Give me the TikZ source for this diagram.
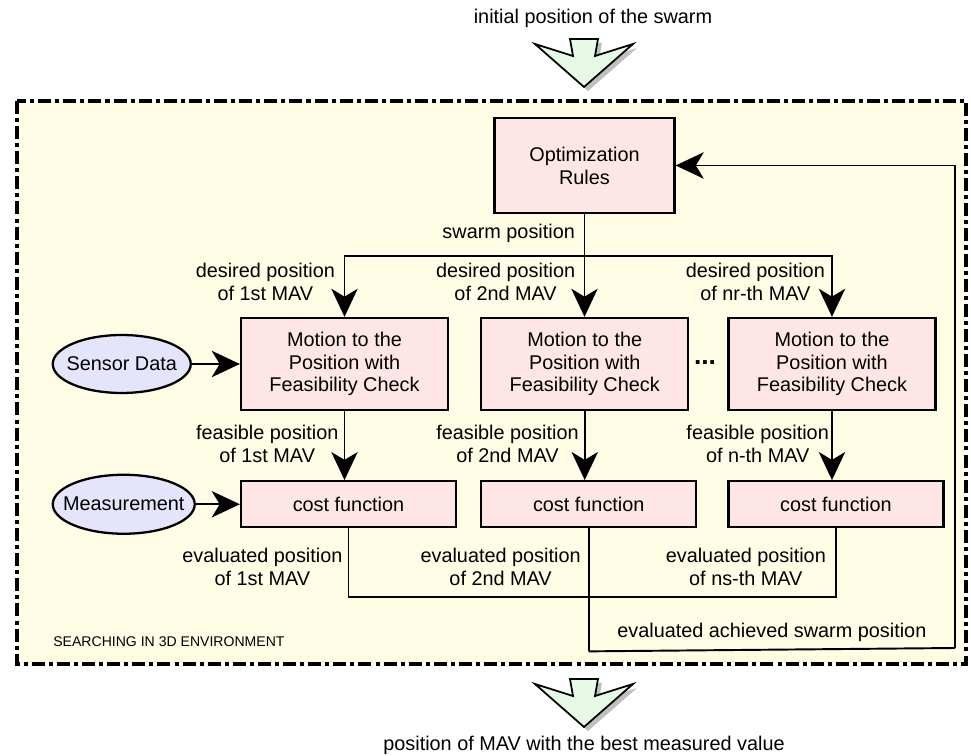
\documentclass[tikz,border=0pt]{standalone}
\usepackage{fontspec}
\setmainfont{Liberation Sans}
\usepackage{xcolor}
\usetikzlibrary{positioning,arrows.meta,shapes.geometric}
\definecolor{boxpink}{HTML}{FFE6E6}
\definecolor{areayellow}{HTML}{FFFDE6}
\definecolor{inlavender}{HTML}{E4E4FA}
\definecolor{arrowgreen}{HTML}{E6FAE6}

\tikzset{
  procbox/.style={draw, line width=1.3pt, fill=boxpink, align=center, inner sep=2pt},
  motionbox/.style={procbox, minimum width=4.14cm, minimum height=1.84cm},
  costbox/.style={procbox, minimum width=4.3cm, minimum height=0.92cm},
  inputell/.style={ellipse, draw, line width=1.3pt, fill=inlavender, inner sep=0pt},
  lbl/.style={align=center, inner sep=1pt},
  conn/.style={line width=1.1pt},
  arr/.style={conn, -{Stealth[length=16pt, width=15pt, inset=4.5pt]}},
  searcharea/.style={draw, line width=2.3pt, fill=areayellow,
                     dash pattern=on 7.4pt off 2.3pt on 2.3pt off 2.3pt},
  flowarrow/.pic={
    \fill[black!25] (-45,5) -- (-7,17) -- (-10,0) -- (18,0) -- (15,17) -- (53,5) -- (4,48) -- cycle;
    \draw[fill=arrowgreen, line width=1pt, line join=miter]
      (-49,1) -- (-11,13) -- (-14,-4) -- (14,-4) -- (11,13) -- (49,1) -- (0,44) -- cycle;
  }
}

\begin{document}
\begin{tikzpicture}[x=0.02cm, y=-0.02cm, font=\fontsize{11.3}{13}\selectfont]
  \useasboundingbox (0,0) rectangle (971,756);

  \draw[searcharea] (17,101) rectangle (966,664);
  \node[anchor=west, inner sep=0pt, font=\fontsize{8}{9}\selectfont] (envlbl) at (53,642)
    {SEARCHING IN 3D ENVIRONMENT};

  \node (start) at (593,18) {initial position of the swarm};
  \pic (inarrow) at (584,43) {flowarrow};
  \pic (outarrow) at (584,683) {flowarrow};
  \node (result) at (584,745) {position of MAV with the best measured value};

  \node[procbox, minimum width=3.6cm, minimum height=1.9cm] (opt) at (584.5,165.5)
    {Optimization\\Rules};

  \node[motionbox] (m1) at (344.5,364) {Motion to the\\Position with\\Feasibility Check};
  \node[motionbox, right=0.62cm of m1] (m2) {Motion to the\\Position with\\Feasibility Check};
  \node[motionbox, right=0.76cm of m2] (m3) {Motion to the\\Position with\\Feasibility Check};
  \node[font=\fontsize{15}{15}\bfseries\selectfont] (dots) at (705,363) {...};

  \node[costbox, below right=1.38cm and 0cm of m1.south west] (c1) {cost function};
  \node[costbox, below right=1.38cm and 0cm of m2.south west] (c2) {cost function};
  \node[costbox, below right=1.38cm and 0cm of m3.south west] (c3) {cost function};

  \node[inputell, minimum width=2.76cm, minimum height=1.16cm, left=0.96cm of m1] (sensor)
    {\makebox[0pt]{Sensor Data}};
  \node[inputell, minimum width=2.84cm, minimum height=1.18cm, left=0.88cm of c1] (meas)
    {\makebox[0pt]{Measurement}};
  \draw[arr] (sensor) -- (m1);
  \draw[arr] (meas) -- (c1);

  \node[lbl, below left=0.15cm and 0.15cm of opt.south] (swpos) {swarm position};
  \coordinate[below=0.84cm of opt.south] (split);
  \draw[arr] (opt.south) -- (opt.south |- m2.north);
  \draw[arr] (split) -| (m1.north);
  \draw[arr] (split) -| (m3.north);

  \node[lbl, above left=0.28cm and 0.15cm of m1.north] (d1) {desired position\\of 1st MAV};
  \node[lbl, above left=0.28cm and 0.15cm of m2.north] (d2) {desired position\\of 2nd MAV};
  \node[lbl, above left=0.28cm and 0.1cm of m3.north] (d3) {desired position\\of nr-th MAV};

  \draw[arr] (m1.south) -- (m1.south |- c1.north);
  \draw[arr] (m2.south) -- (m2.south |- c2.north);
  \draw[arr] (m3.south) -- (m3.south |- c3.north);
  \node[lbl, below left=0.24cm and 0.08cm of m1.south] (f1) {feasible position\\of 1st MAV};
  \node[lbl, below left=0.24cm and 0.08cm of m2.south] (f2) {feasible position\\of 2nd MAV};
  \node[lbl, below left=0.24cm and 0.02cm of m3.south] (f3) {feasible position\\of n-th MAV};

  \node[lbl, below left=0.36cm and 0.08cm of c1.south] (e1) {evaluated position\\of 1st MAV};
  \node[lbl, below left=0.36cm and 0.12cm of c2.south] (e2) {evaluated position\\of 2nd MAV};
  \node[lbl, below left=0.36cm and 0.16cm of c3.south] (e3) {evaluated position\\of ns-th MAV};

  \coordinate[below=1.38cm of c2.south] (merge);
  \coordinate[below=2.46cm of c2.south] (ret);
  \coordinate (rside) at (955,648);
  \draw[conn] (c1.south) |- (merge) -| (c3.south);
  \draw[conn] (c2.south) -- (ret);
  \draw[conn] (ret) -- node[lbl, above=3pt] (achieved) {evaluated achieved swarm position} (rside);
  \draw[arr] (rside) |- (opt.east);
\end{tikzpicture}
\end{document}
